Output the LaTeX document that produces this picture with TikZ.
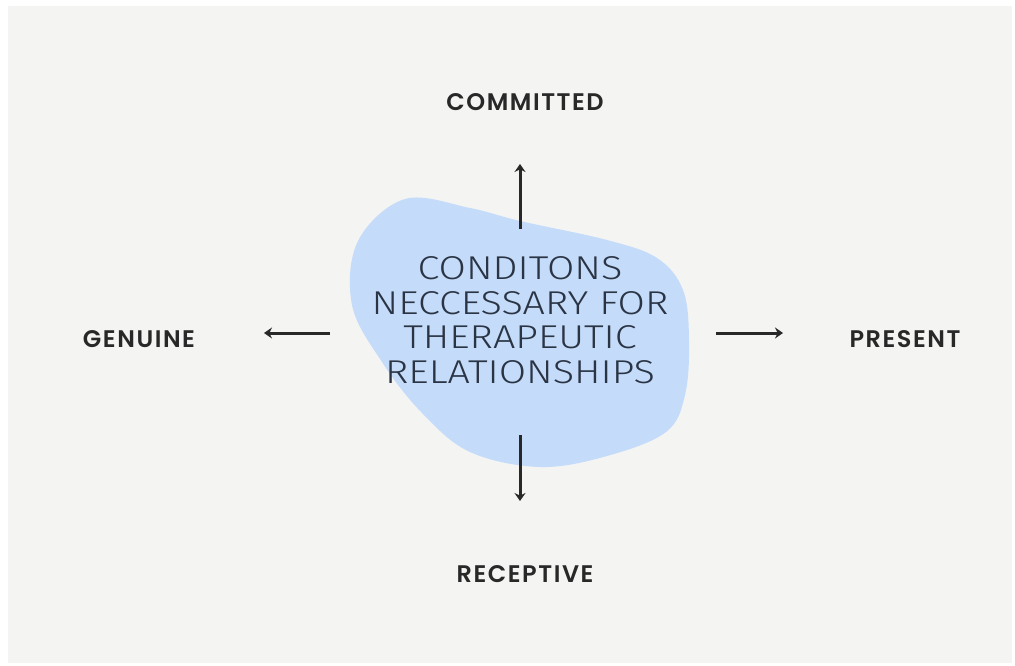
\documentclass[tikz,border=0pt]{standalone}
\usepackage{fontspec}
\usetikzlibrary{arrows.meta}
\newfontfamily\blobfont{Fira Sans Light}
\newfontfamily\labfont{Poppins SemiBold}[LetterSpace=6.5]
\definecolor{paper}{RGB}{244,244,243}
\definecolor{blobblue}{RGB}{196,220,249}
\definecolor{ink}{RGB}{40,40,40}
\definecolor{blobink}{RGB}{42,52,68}
\newcommand{\wl}[1]{\scalebox{1.2}[1]{#1}}
\tikzset{
  lab/.style={font=\labfont\fontsize{24}{27}\selectfont, text=ink, inner sep=0pt, anchor=center},
  conn/.style={draw=ink, line width=3pt, -{Stealth[length=8pt,width=11pt]}},
}
\begin{document}
\begin{tikzpicture}[x=1pt,y=-1pt]
\useasboundingbox (0,0) rectangle (1015,666);
\fill[white] (0,0) rectangle (1015,666);
\fill[paper] (8,6) rectangle (1012,663);
% blob
\fill[blobblue] plot[smooth cycle, tension=0.6] coordinates {
 (405,199) (470,208) (520,221) (607,240) (657,258) (683,290) (689,340)
 (685,395) (666,432) (607,456) (540,467) (470,452) (422,413) (382,362)
 (352,305) (358,241)};
\node[align=center, text=blobink, font=\blobfont\fontsize{33}{34.5}\selectfont, inner sep=0pt] (core) at (520,320)
  {\wl{CONDITONS}\\\wl{NECCESSARY FOR}\\\wl{THERAPEUTIC}\\\wl{RELATIONSHIPS}};
% labels
\node[lab] (committed) at (525,102) {COMMITTED};
\node[lab] (genuine) at (139,339) {GENUINE};
\node[lab] (present) at (905,339) {PRESENT};
\node[lab] (receptive) at (525,574) {RECEPTIVE};
% connector ends
\coordinate (upA) at (520,229);
\coordinate (upB) at (520,164);
\coordinate (dnA) at (520,435);
\coordinate (dnB) at (520,501);
\coordinate (ltA) at (330,333);
\coordinate (ltB) at (264,333);
\coordinate (rtA) at (716,333);
\coordinate (rtB) at (783,333);
\draw[conn] (upA) -- (upB);
\draw[conn] (dnA) -- (dnB);
\draw[conn] (ltA) -- (ltB);
\draw[conn] (rtA) -- (rtB);
\end{tikzpicture}
\end{document}
